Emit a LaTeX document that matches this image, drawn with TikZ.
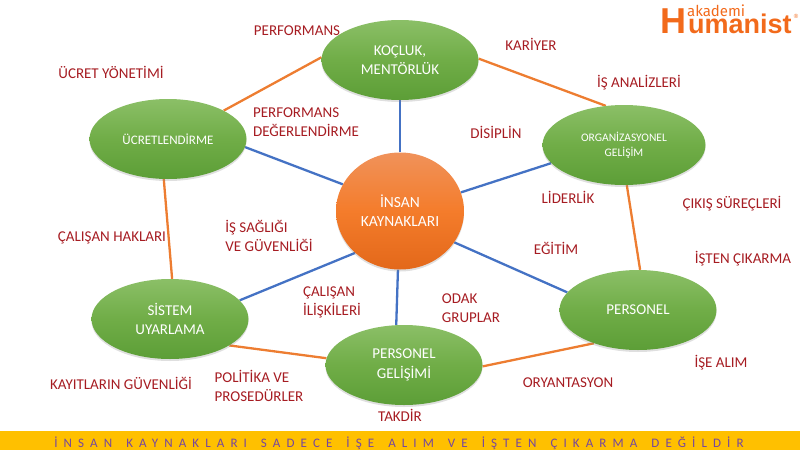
\documentclass[tikz,border=0pt]{standalone}
\usepackage{fontspec}
\setmainfont{Carlito}
\newfontfamily\logofont{Liberation Sans}
\newfontfamily\logohand{Fira Sans}
\newfontfamily\barfont[LetterSpace=47,WordSpace=1.55]{Carlito}
\usetikzlibrary{backgrounds,shadows,shapes.geometric}
\definecolor{lblred}{HTML}{A61C22}
\definecolor{edgeblue}{HTML}{4472C4}
\definecolor{edgeorange}{HTML}{ED7D31}
\definecolor{barfill}{HTML}{FFC000}
\definecolor{bartext}{HTML}{75479E}
\definecolor{logoor}{HTML}{F26A1B}
\definecolor{gr1}{HTML}{8BBF67}
\definecolor{gr2}{HTML}{5C9E37}
\definecolor{gr3}{HTML}{70AD47}
\definecolor{or1}{HTML}{F0925A}
\definecolor{or2}{HTML}{E3681A}
\definecolor{or3}{HTML}{F47C2B}
\tikzset{
  greenball/.style={ellipse,inner sep=0pt,minimum width=157pt,minimum height=80pt,align=center,
    top color=gr1,bottom color=gr2,middle color=gr3,text=white,font=\fontsize{15}{19.5}\selectfont,
    drop shadow={shadow xshift=0pt,shadow yshift=-2pt,opacity=.25}},
  orangeball/.style={ellipse,inner sep=0pt,minimum width=128pt,minimum height=117pt,align=center,
    top color=or1,bottom color=or2,middle color=or3,text=white,font=\fontsize{15.5}{19}\selectfont,
    drop shadow={shadow xshift=0pt,shadow yshift=-2pt,opacity=.25}},
  lbl/.style={text=lblred,font=\fontsize{15}{19}\selectfont,align=left,inner sep=0pt},
  spoke/.style={draw=edgeblue,line width=2.3pt},
  rim/.style={draw=edgeorange,line width=2.3pt},
}
\begin{document}
\begin{tikzpicture}[x=1pt,y=-1pt]
\useasboundingbox (0,0) rectangle (800,450);
\node[orangeball] (center) at (400,211) {İNSAN\\KAYNAKLARI};
\node[greenball] (koc) at (400,60) {KOÇLUK,\\MENTÖRLÜK};
\node[greenball,minimum width=163pt,font=\fontsize{11.5}{15}\selectfont] (org) at (624,145) {ORGANİZASYONEL\\GELİŞİM};
\node[greenball] (per) at (638,310) {PERSONEL};
\node[greenball] (gel) at (404,365) {PERSONEL\\GELİŞİMİ};
\node[greenball] (sis) at (170,319) {SİSTEM\\UYARLAMA};
\node[greenball,font=\fontsize{13}{15}\selectfont] (ucr) at (168,139) {ÜCRETLENDİRME};
\begin{pgfonlayer}{background}
\draw[rim] (koc.1) -- (org.115);
\draw[rim] (org.274) -- (per.87);
\draw[rim] (per.217) -- (gel.359);
\draw[rim] (gel.175) -- (sis.336);
\draw[rim] (sis.87) -- (ucr.264);
\draw[rim] (ucr.27) -- (koc.178);
\draw[spoke] (center.90) -- (koc.270);
\draw[spoke] (center.17) -- (org.194);
\draw[spoke] (center.330) -- (per.166);
\draw[spoke] (center.268) -- (gel.101);
\draw[spoke] (center.223) -- (sis.15);
\draw[spoke] (center.155) -- (ucr.354);
\end{pgfonlayer}
\node[lbl] (l1) at (297,31) {PERFORMANS};
\node[lbl] (l2) at (531,44) {KARİYER};
\node[lbl] (l3) at (111,72) {ÜCRET YÖNETİMİ};
\node[lbl] (l4) at (639,83) {İŞ ANALİZLERİ};
\node[lbl] (l5) at (306,122) {PERFORMANS\\DEĞERLENDİRME};
\node[lbl] (l6) at (496,132) {DİSİPLİN};
\node[lbl] (l7) at (568,197) {LİDERLİK};
\node[lbl] (l8) at (732,204) {ÇIKIŞ SÜREÇLERİ};
\node[lbl] (l9) at (269,236) {İŞ SAĞLIĞI\\VE GÜVENLİĞİ};
\node[lbl] (l10) at (112,238) {ÇALIŞAN HAKLARI};
\node[lbl] (l11) at (556,248) {EĞİTİM};
\node[lbl] (l12) at (743,259) {İŞTEN ÇIKARMA};
\node[lbl] (l13) at (332,302) {ÇALIŞAN\\İLİŞKİLERİ};
\node[lbl] (l14) at (471,308) {ODAK\\GRUPLAR};
\node[lbl] (l15) at (721,363) {İŞE ALIM};
\node[lbl] (l16) at (121,383) {KAYITLARIN GÜVENLİĞİ};
\node[lbl] (l17) at (259,386) {POLİTİKA VE\\PROSEDÜRLER};
\node[lbl] (l18) at (568,383) {ORYANTASYON};
\node[lbl] (l19) at (400,415) {TAKDİR};
\fill[barfill] (0,431) rectangle (800,450);
\node[text=bartext,font=\barfont\fontsize{13}{14}\selectfont,inner sep=0pt] (bar) at (399,443) {İNSAN KAYNAKLARI SADECE İŞE ALIM VE İŞTEN ÇIKARMA DEĞİLDİR};
\node[text=logoor,font=\logofont\bfseries\fontsize{36}{36}\selectfont,inner sep=0pt,anchor=base west] (logoh) at (660,33) {H};
\node[text=logoor,font=\logofont\bfseries\fontsize{27}{27}\selectfont,inner sep=0pt,anchor=base west] (logo) at (688,33) {umanist};
\node[text=logoor,font=\logohand\fontsize{15}{15}\selectfont,inner sep=0pt,anchor=base west] (ak) at (687,16) {akademi};
\node[text=logoor,font=\logofont\fontsize{6}{6}\selectfont,inner sep=0pt] (reg) at (796,16) {®};
\end{tikzpicture}
\end{document}
